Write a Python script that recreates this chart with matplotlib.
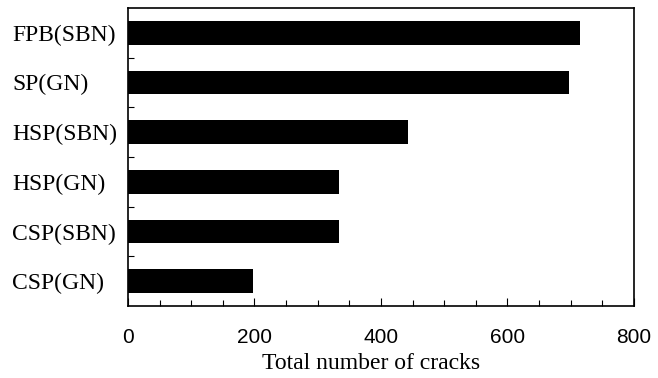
import numpy as np
import matplotlib.pyplot as plt
from matplotlib.ticker import MultipleLocator

# crack counts per specimen type
labels = ["CSP(GN)", "CSP(SBN)", "HSP(GN)", "HSP(SBN)", "SP(GN)", "FPB(SBN)"]
cracks = [197, 334, 334, 442, 698, 714]

fig = plt.figure(figsize=(6.58, 3.78), dpi=100)
ax = fig.add_axes([0.1945, 0.1905, 0.769, 0.7885])

y = np.arange(len(labels))
ax.barh(y, cracks, height=0.48, color="black")

ax.set_xlim(0, 800)
ax.set_ylim(-0.5, 5.5)

# category names, left aligned
ax.set_yticks(y)
ax.set_yticklabels(labels, family="Liberation Serif", fontsize=17, ha="left")
ax.set_yticks(y[:-1] + 0.5, minor=True)
ax.tick_params(axis="y", which="major", length=0, pad=83.5)
ax.tick_params(axis="y", which="minor", direction="in", length=4, width=0.8)

ax.xaxis.set_major_locator(MultipleLocator(200))
ax.xaxis.set_minor_locator(MultipleLocator(50))
ax.tick_params(axis="x", which="major", direction="in", length=6, width=0.8, pad=15.5)
ax.tick_params(axis="x", which="minor", direction="in", length=4, width=0.8)
for t in ax.get_xticklabels():
    t.set_family("Liberation Sans")
    t.set_fontsize(15)

ax.set_xlabel("Total number of cracks", family="Liberation Serif", fontsize=17)
ax.xaxis.set_label_coords(0.48, -0.158)

for s in ax.spines.values():
    s.set_linewidth(1.2)

fig.savefig("out.png", dpi=100)
